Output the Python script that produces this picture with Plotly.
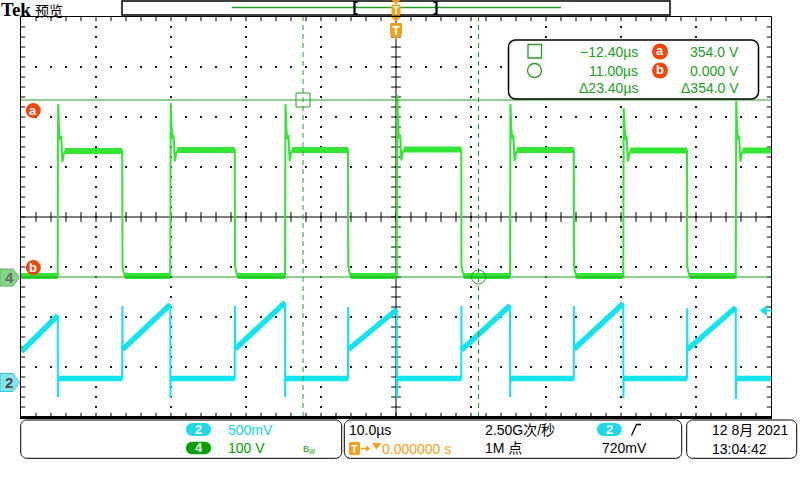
import plotly.graph_objects as go

time_range_us = [-50.0, 50.0]          # 10.0 µs/div, 10 divisions
ch4_range_v = [-280.0, 520.0]          # CH4 100 V/div, ground 1.2 div below centre
ch2_range_v = [-0.35, 3.65]            # CH2 500 mV/div, ground 3.3 div below centre

# CH4 (green) switching node
ch4_rise_us = [-45.1, -30.1, -14.8, 0.1, 15.2, 30.3, 45.3]
ch4_fall_us = [-36.5, -21.5, -6.4, 8.7, 23.7, 38.8]
ch4_high_v = [252, 254, 254, 255, 254, 253, 253]
ch4_peak_v = [346, 348, 346, 364, 346, 338, 352]
ch4_low_v = 2
ch4_ring_dt_us = [0.18, 0.30, 0.45, 0.62, 0.80, 1.00]
ch4_ring_dv_v = [45, 22, 30, -22, -6, 0]
ch4_fall_dt_us = [0.03, 0.15, 0.35]
ch4_fall_v = [22, 12, 2]

# CH2 (cyan) current ramp
ch2_base_v = 0.035
ch2_ramp_start_us = [-50.0, -36.5, -21.5, -6.4, 8.7, 23.7, 38.8]
ch2_ramp_start_v = [0.305, 0.325, 0.33, 0.325, 0.32, 0.33, 0.325]
ch2_ramp_end_us = [-45.1, -30.1, -14.8, 0.1, 15.2, 30.3, 45.3]
ch2_ramp_end_v = [0.665, 0.775, 0.795, 0.725, 0.765, 0.785, 0.745]
ch2_up_spike_v = [None, 0.76, 0.76, 0.75, 0.76, 0.76, 0.74]
ch2_down_spike_v = [-0.15, -0.16, -0.15, -0.16, -0.15, -0.16, -0.17]

# cursors
cursor_t_us = [-12.40, 11.00]
cursor_v = [354.0, 0.0]

# readout / status texts
readout_time = ["\u221212.40\u00b5s", "11.00\u00b5s", "\u039423.40\u00b5s"]
readout_volt = ["354.0 V", "0.000 V", "\u0394354.0 V"]

# ---------------- geometry ----------------
W, H = 800, 480
L, R, T, B = 21, 771, 17, 417
FONT = "Liberation Sans, Noto Sans CJK SC, sans-serif"
GREEN_T = "#33e633"
CYAN_T = "#12e4ee"
CUR_G = "#20a020"
ORANGE = "#f5a01a"
RED_O = "#f0460a"


def px(x):
    return (x - L) / (R - L)


def py(y):
    return (B - y) / (B - T)


def P(x, y):
    return f"{px(x):.5f},{py(y):.5f}"


def poly(points):
    return "M " + " L ".join(P(x, y) for x, y in points) + " Z"


def rrect(x0, y0, x1, y1, r):
    k = 0.5523 * r
    return (f"M {P(x0 + r, y0)} L {P(x1 - r, y0)} C {P(x1 - r + k, y0)} {P(x1, y0 + r - k)} {P(x1, y0 + r)} "
            f"L {P(x1, y1 - r)} C {P(x1, y1 - r + k)} {P(x1 - r + k, y1)} {P(x1 - r, y1)} "
            f"L {P(x0 + r, y1)} C {P(x0 + r - k, y1)} {P(x0, y1 - r + k)} {P(x0, y1 - r)} "
            f"L {P(x0, y0 + r)} C {P(x0, y0 + r - k)} {P(x0 + r - k, y0)} {P(x0 + r, y0)} Z")


shapes, anns = [], []


def shp_path(d, fill=None, line=None, lw=1, layer="above"):
    shapes.append(dict(type="path", path=d, xref="paper", yref="paper", layer=layer,
                       fillcolor=fill if fill else "rgba(0,0,0,0)",
                       line=dict(color=line if line else "rgba(0,0,0,0)", width=lw if line else 0)))


def circle(cx, cy, r, fill=None, line=None, lw=1):
    shapes.append(dict(type="circle", xref="paper", yref="paper",
                       x0=px(cx - r), x1=px(cx + r), y0=py(cy + r), y1=py(cy - r),
                       fillcolor=fill if fill else "rgba(0,0,0,0)",
                       line=dict(color=line if line else "rgba(0,0,0,0)", width=lw if line else 0)))


def text(x, y, s, color="black", size=14, anchor="left", family=FONT, bold=False, yanchor="middle"):
    anns.append(dict(x=px(x), y=py(y), xref="paper", yref="paper", text=s, showarrow=False,
                     xanchor=anchor, yanchor=yanchor, borderpad=0,
                     font=dict(family=family, size=size, color=color,
                               weight="bold" if bold else "normal")))


# ---------------- build CH4 waveform ----------------
t4, v4 = [time_range_us[0]], [ch4_low_v]
b4t, b4v = [time_range_us[0], ch4_rise_us[0], None], [ch4_low_v, ch4_low_v, None]
for i, tr in enumerate(ch4_rise_us):
    hi = ch4_high_v[i]
    t4 += [tr, tr + 0.02, tr + 0.06]
    v4 += [ch4_low_v, hi - 8, ch4_peak_v[i]]
    for dt, dv in zip(ch4_ring_dt_us, ch4_ring_dv_v):
        t4.append(tr + dt)
        v4.append(hi + dv)
    if i < len(ch4_fall_us):
        tf = ch4_fall_us[i]
        t4.append(tf)
        v4.append(hi)
        for dt, vv in zip(ch4_fall_dt_us, ch4_fall_v):
            t4.append(tf + dt)
            v4.append(vv)
        b4t += [tr + 0.95, tf, None, tf + 0.35, ch4_rise_us[i + 1], None]
        b4v += [hi, hi, None, ch4_low_v, ch4_low_v, None]
    else:
        t4.append(time_range_us[1])
        v4.append(hi)
        b4t += [tr + 0.95, time_range_us[1]]
        b4v += [hi, hi]

# ---------------- build CH2 waveform ----------------
t2, v2 = [], []
b2t, b2v = [], []
n2 = len(ch2_ramp_start_us)
for i in range(n2):
    ts, te = ch2_ramp_start_us[i], ch2_ramp_end_us[i]
    if ch2_up_spike_v[i] is None:
        t2 += [ts]
        v2 += [ch2_ramp_start_v[i]]
    else:
        t2 += [ts, ts + 0.02, ts + 0.05]
        v2 += [ch2_base_v, ch2_up_spike_v[i], ch2_ramp_start_v[i]]
    t2 += [te, te + 0.02, te + 0.05]
    v2 += [ch2_ramp_end_v[i], ch2_down_spike_v[i], ch2_base_v]
    nxt = ch2_ramp_start_us[i + 1] if i + 1 < n2 else time_range_us[1]
    if i + 1 == n2:
        t2.append(nxt)
        v2.append(ch2_base_v)
    b2t += [ts + 0.05, te, None, te + 0.08, nxt, None]
    b2v += [ch2_ramp_start_v[i], ch2_ramp_end_v[i], None, ch2_base_v, ch2_base_v, None]

# ---------------- grid (decoration) ----------------
y0v = ch4_range_v[0]
gx, gy = [], []
for k in (1, 2, 3, 5, 6, 7):
    for j in range(1, 50):
        gx.append(-50 + 2 * j)
        gy.append(y0v + 100 * k)
for k in (1, 2, 3, 4, 6, 7, 8, 9):
    for j in range(1, 40):
        gx.append(-50 + 10 * k)
        gy.append(y0v + 20 * j)
tnsx = [-50 + 2 * j for j in range(1, 50)]
tewy = [y0v + 20 * j for j in range(1, 40)]

fig = go.Figure()
fig.add_trace(go.Scatter(x=gx, y=gy, mode="markers", hoverinfo="skip",
                         marker=dict(symbol="square", size=1.8, color="black", line=dict(width=0))))
fig.add_trace(go.Scatter(x=tnsx, y=[y0v + 400] * len(tnsx), mode="markers", hoverinfo="skip",
                         marker=dict(symbol="line-ns", size=7, line=dict(color="black", width=1))))
fig.add_trace(go.Scatter(x=[0] * len(tewy), y=tewy, mode="markers", hoverinfo="skip",
                         marker=dict(symbol="line-ew", size=7, line=dict(color="black", width=1))))
fig.add_trace(go.Scatter(x=tnsx + tnsx, y=[ch4_range_v[1]] * len(tnsx) + [ch4_range_v[0]] * len(tnsx),
                         mode="markers", hoverinfo="skip",
                         marker=dict(symbol="line-ns", size=6, line=dict(color="black", width=1))))
fig.add_trace(go.Scatter(x=[time_range_us[0]] * len(tewy) + [time_range_us[1]] * len(tewy), y=tewy + tewy,
                         mode="markers", hoverinfo="skip",
                         marker=dict(symbol="line-ew", size=6, line=dict(color="black", width=1))))

# CH4 traces
fig.add_trace(go.Scatter(x=t4, y=v4, mode="lines", line=dict(color=GREEN_T, width=2), hoverinfo="skip"))
fig.add_trace(go.Scatter(x=b4t, y=b4v, mode="lines", line=dict(color=GREEN_T, width=6), hoverinfo="skip"))
# cursor markers
fig.add_trace(go.Scatter(x=cursor_t_us, y=cursor_v, mode="markers", hoverinfo="skip",
                         marker=dict(symbol=["square-open", "circle-open"], size=14,
                                     color=CUR_G, line=dict(color=CUR_G, width=1))))
# CH2 traces
fig.add_trace(go.Scatter(x=t2, y=v2, mode="lines", yaxis="y2", line=dict(color=CYAN_T, width=2), hoverinfo="skip"))
fig.add_trace(go.Scatter(x=b2t, y=b2v, mode="lines", yaxis="y2", line=dict(color=CYAN_T, width=5.5), hoverinfo="skip"))

# centre lines
shapes.append(dict(type="line", xref="x", yref="y domain", x0=0, x1=0, y0=0, y1=1,
                   line=dict(color="black", width=1), layer="below"))
shapes.append(dict(type="line", xref="x domain", yref="y", x0=0, x1=1, y0=y0v + 400, y1=y0v + 400,
                   line=dict(color="black", width=1), layer="below"))
# cursors
for tc in cursor_t_us:
    shapes.append(dict(type="line", xref="x", yref="y domain", x0=tc, x1=tc, y0=0, y1=1,
                       line=dict(color=CUR_G, width=1, dash="5px,4px")))
for vc in cursor_v:
    shapes.append(dict(type="line", xref="x domain", yref="y", x0=0, x1=1, y0=vc, y1=vc,
                       line=dict(color=CUR_G, width=1)))
# thick bottom border
shapes.append(dict(type="line", xref="paper", yref="paper", x0=px(20), x1=px(772), y0=py(417.5), y1=py(417.5),
                   line=dict(color="black", width=3)))

# ---------------- header ----------------
text(0, 9.5, "Tek", size=19, family="Liberation Serif, serif", bold=True)
text(34, 10, "预览", size=14, family="Noto Sans CJK SC")
shp_path(poly([(122, 1), (670, 1), (670, 15), (122, 15)]), fill="white", line="black", lw=1.5)
shapes.append(dict(type="line", xref="paper", yref="paper", x0=px(232), x1=px(561), y0=py(7.5), y1=py(7.5),
                   line=dict(color=CUR_G, width=1.5)))
shp_path(f"M {P(357.5, 2)} L {P(354.5, 2)} L {P(354.5, 14)} L {P(357.5, 14)}", line="black", lw=2.2)
shp_path(f"M {P(433.5, 2)} L {P(436.5, 2)} L {P(436.5, 14)} L {P(433.5, 14)}", line="black", lw=2.2)
# trigger position markers
shp_path(poly([(391.5, 0), (400.5, 0), (396, 4.5)]), fill=ORANGE)
shp_path(rrect(391.5, 4.5, 400.5, 15.5, 1.5), fill=ORANGE)
text(396, 10.5, "T", color="white", size=10, anchor="center", bold=True)
shp_path(poly([(391, 17), (401, 17), (396, 22)]), fill=ORANGE)
shp_path(poly([(390, 23), (402, 23), (402, 35), (396, 39.5), (390, 35)]), fill=ORANGE)
text(396, 30.5, "T", color="white", size=13, anchor="center", bold=True)

# ---------------- cursor readout box ----------------
shp_path(rrect(508.5, 40, 758.5, 99, 7), fill="white", line="black", lw=1.5)
shp_path(poly([(528, 44.5), (541.5, 44.5), (541.5, 58), (528, 58)]), line=CUR_G, lw=1.3)
circle(534.5, 70.5, 7, line=CUR_G, lw=1.3)
rows_y = [51.5, 70.5, 88.5]
for yy, s1, s2 in zip(rows_y, readout_time, readout_volt):
    text(639, yy, s1, color=CUR_G, anchor="right")
    text(740, yy, s2, color=CUR_G, anchor="right")
for yy, s in zip(rows_y[:2], ["a", "b"]):
    circle(660, yy, 8, fill=RED_O)
    text(660, yy - 0.5, s, color="white", size=13, anchor="center", bold=True)

# cursor labels at left
for yy, s in [(110.5, "a"), (267.5, "b")]:
    circle(33.3, yy, 7.5, fill=RED_O)
    text(33.3, yy - 0.5, s, color="white", size=13, anchor="center", bold=True)

# ground markers
shp_path(poly([(0, 269), (13, 269), (19.5, 277.5), (13, 286), (0, 286)]), fill="#86d486", line="#5cb85c", lw=1)
text(9, 277.5, "4", color="#6a6a6a", size=15, anchor="center", bold=True)
shp_path(poly([(0, 373.5), (13, 373.5), (19.5, 382.5), (13, 391.5), (0, 391.5)]), fill="#84e4ec", line="#30c8d8", lw=1)
text(9, 382.5, "2", color="#4a4a4a", size=15, anchor="center", bold=True)

# trigger level arrow
shp_path(poly([(760, 310.5), (767, 305), (767, 316)]), fill=CYAN_T)
shapes.append(dict(type="line", xref="paper", yref="paper", x0=px(765), x1=px(772), y0=py(310.5), y1=py(310.5),
                   line=dict(color=CYAN_T, width=1.5)))

# ---------------- bottom status boxes ----------------
shp_path(rrect(20.7, 420, 341.7, 458.3, 6), line="black", lw=1)
shp_path(rrect(344.3, 420, 681.7, 458.3, 6), line="black", lw=1)
shp_path(rrect(686.7, 420, 796.7, 458.3, 6), line="black", lw=1)

shp_path(rrect(186, 423, 211, 436, 6.5), fill="#1ed8e6")
text(198.5, 429.5, "2", color="white", size=13, anchor="center", bold=True)
text(227, 429.5, "500mV", color="#10d4e4")
shp_path(rrect(186, 441.7, 211, 454.3, 6.3), fill="#00a000")
text(198.5, 448, "4", color="white", size=13, anchor="center", bold=True)
text(227, 448, "100 V", color="#00a000")
text(302, 449, "B<sub>W</sub>", color="#00a000", size=9)

text(348, 429.5, "10.0\u00b5s")
shp_path(rrect(349, 442, 360, 455, 1.5), fill=ORANGE)
text(354.5, 448.5, "T", color="white", size=11, anchor="center", bold=True)
shapes.append(dict(type="line", xref="paper", yref="paper", x0=px(361), x1=px(368), y0=py(448.5), y1=py(448.5),
                   line=dict(color=ORANGE, width=1.5)))
shp_path(poly([(366, 445.5), (370.5, 448.5), (366, 451.5)]), fill=ORANGE)
shp_path(poly([(372, 443), (381, 443), (376.5, 449.5)]), fill=ORANGE)
text(381, 448.5, "0.000000 s", color=ORANGE)
text(484, 429.5, "2.50G次/秒")
text(484, 448, "1M 点")
shp_path(rrect(597, 423, 621.7, 436, 6.5), fill="#1ed8e6")
text(609.3, 429.5, "2", color="white", size=13, anchor="center", bold=True)
shp_path(f"M {P(631.5, 435.5)} L {P(636.5, 424.5)} L {P(641, 424.5)}", line="black", lw=1.3)
text(601, 448, "720mV")

text(711, 429.5, "12 8月 2021")
text(711, 448.5, "13:04:42")

fig.update_layout(
    width=W, height=H, margin=dict(l=L, r=W - R, t=T, b=H - B, pad=0),
    paper_bgcolor="white", plot_bgcolor="white", showlegend=False,
    xaxis=dict(range=time_range_us, showgrid=False, zeroline=False, showticklabels=False, ticks="",
               showline=True, mirror=True, linecolor="black", linewidth=1),
    yaxis=dict(range=ch4_range_v, showgrid=False, zeroline=False, showticklabels=False, ticks="",
               showline=True, mirror=True, linecolor="black", linewidth=1),
    yaxis2=dict(range=ch2_range_v, overlaying="y", visible=False, showgrid=False, zeroline=False),
    shapes=shapes, annotations=anns,
)
fig.write_html("out.html", config={"displayModeBar": False},
               post_script="document.body.style.margin='0';document.body.style.overflow='hidden';")
